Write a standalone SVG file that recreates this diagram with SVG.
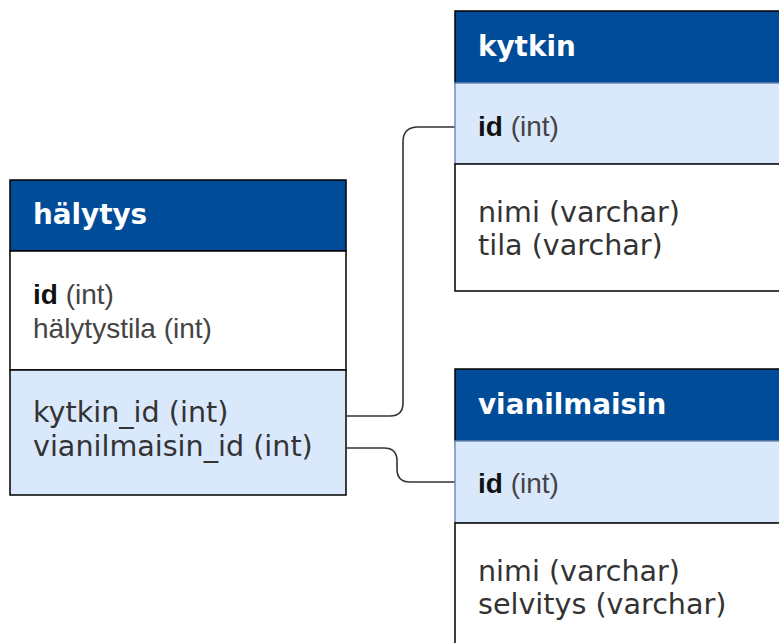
<svg xmlns="http://www.w3.org/2000/svg" width="779" height="643" viewBox="0 0 779 643">
<style>
.hdr{fill:#004C99;stroke:#000;stroke-width:1.5}
.pk{fill:#DAE8FC;stroke:#000;stroke-width:1.5}
.body{fill:#fff;stroke:#000;stroke-width:1.5}
.ht{font-family:"DejaVu Sans",Verdana,sans-serif;font-weight:bold;font-size:27.8px;fill:#fff}
.vt{font-family:"DejaVu Sans",Verdana,sans-serif;font-size:28.6px;fill:#333}
.at{font-family:"Liberation Sans",Arial,sans-serif;font-size:28px;fill:#444}
.b{font-weight:bold;fill:#111}
.conn{fill:none;stroke:#333;stroke-width:1.6}
</style>
<rect width="779" height="643" fill="#fff"/>
<g id="connectors">
<path class="conn" d="M347,416 H390 Q403,416 403,403 V142 Q403,127 418,127 H455"/>
<path class="conn" d="M347,448 H384 Q397,448 397,461 V469 Q397,482 410,482 H455"/>
</g>
<g id="halytys">
<rect class="hdr" x="10" y="180" width="336" height="71"/>
<rect class="body" x="10" y="251" width="336" height="119"/>
<rect class="pk" x="10" y="370" width="336" height="125"/>
<text class="ht" x="33" y="224">hälytys</text>
<text class="at" x="33" y="304"><tspan class="b">id</tspan> (int)</text>
<text class="at" x="33" y="338">hälytystila (int)</text>
<text class="vt" x="33" y="422">kytkin_id (int)</text>
<text class="vt" x="33" y="456">vianilmaisin_id (int)</text>
</g>
<g id="kytkin">
<rect class="hdr" x="455" y="11" width="340" height="72"/>
<rect class="pk" x="455" y="83" width="340" height="81" style="stroke:#6C8EBF"/>
<rect class="body" x="455" y="164" width="340" height="127"/>
<text class="ht" x="478" y="56">kytkin</text>
<text class="at" x="478" y="136"><tspan class="b">id</tspan> (int)</text>
<text class="vt" x="478" y="222">nimi (varchar)</text>
<text class="vt" x="478" y="255">tila (varchar)</text>
</g>
<g id="vianilmaisin">
<rect class="hdr" x="455" y="369" width="340" height="72"/>
<rect class="pk" x="455" y="441" width="340" height="82" style="stroke:#6C8EBF"/>
<rect class="body" x="455" y="523" width="340" height="140"/>
<text class="ht" x="478" y="414">vianilmaisin</text>
<text class="at" x="478" y="493"><tspan class="b">id</tspan> (int)</text>
<text class="vt" x="478" y="581">nimi (varchar)</text>
<text class="vt" x="478" y="614">selvitys (varchar)</text>
</g>
</svg>
